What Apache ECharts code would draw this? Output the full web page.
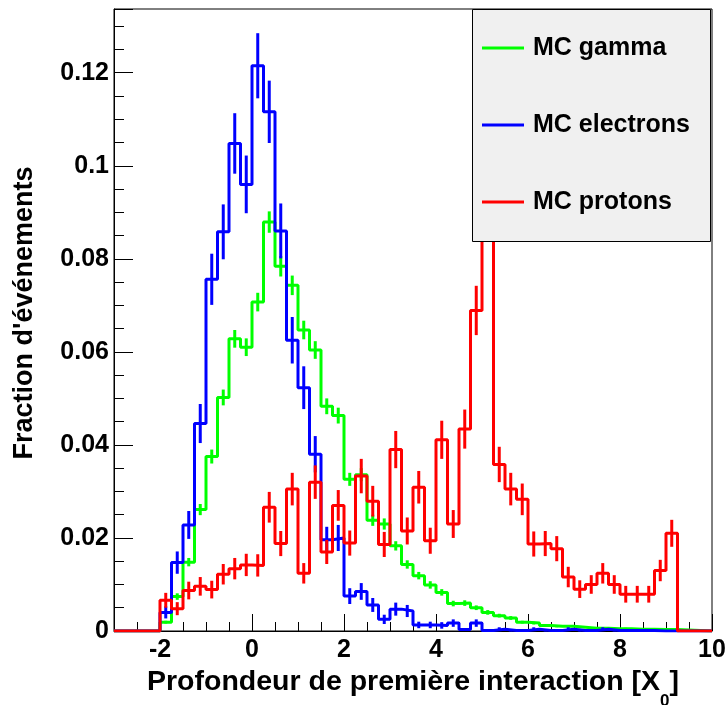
<!DOCTYPE html>
<html><head><meta charset="utf-8">
<script src="https://cdn.jsdelivr.net/npm/echarts/dist/echarts.min.js"></script>
<style>html,body{margin:0;padding:0;background:#fff}#c{width:728px;height:705px}</style>
</head><body><div id="c"></div>
<script>
// Histogram binning (bin left edge of first bin, bin width), axis range
const binStart = -2;
const binWidth = 0.25;
const xMin = -3, xMax = 10;
const yMin = 0, yMax = 0.1337;

const seriesNames = ['MC gamma', 'MC electrons', 'MC protons'];

const gamma = [0.0019,0.0074,0.0148,0.0261,0.0375,0.0502,0.0628,0.0610,0.0707,0.0879,
  0.0784,0.0743,0.0647,0.0604,0.0483,0.0463,0.0326,0.0336,0.0238,0.0230,
  0.0183,0.0143,0.0119,0.0099,0.0083,0.0059,0.0060,0.0050,0.0040,0.0033,
  0.0028,0.0019,0.0017,0.0012,0.0010,0.0010,0.0008,0.0006,0.0006,0.0005,
  0.0005,0.0004,0.0004,0.0003,0.0003];
const gammaErr = [0.0003,0.0007,0.0009,0.0012,0.0015,0.0017,0.0019,0.0019,0.0020,0.0023,
  0.0022,0.0021,0.0020,0.0019,0.0017,0.0017,0.0014,0.0014,0.0012,0.0012,
  0.0010,0.0009,0.0008,0.0008,0.0007,0.0006,0.0006,0.0005,0.0005,0.0004,
  0.0004,0.0003,0.0003,0.0003,0.0002,0.0002,0.0002,0.0002,0.0002,0.0002,
  0.0002,0.0002,0.0002,0.0001,0.0001];

const electrons = [0.0040,0.0147,0.0228,0.0446,0.0756,0.0858,0.1048,0.0960,0.1215,0.1116,
  0.0860,0.0625,0.0523,0.0380,0.0196,0.0200,0.0075,0.0085,0.0056,0.0025,
  0.0047,0.0043,0.0013,0.0013,0.0012,0.0017,0.0003,0.0017,0.0001,0.0004,
  0.0001,0.0001,0.0004,0.0001,0.0001,0.0004,0.0001,0.0001,0.0004,0.0001,
  0.0001,0.0001,0.0001,0,0];
const electronsErr = [0.0013,0.0024,0.0030,0.0042,0.0055,0.0059,0.0065,0.0062,0.0070,0.0067,
  0.0059,0.0050,0.0046,0.0039,0.0028,0.0028,0.0017,0.0018,0.0015,0.0010,
  0.0014,0.0013,0.0007,0.0007,0.0007,0.0008,0.0003,0.0008,0.0002,0.0004,
  0.0002,0.0002,0.0004,0.0002,0.0002,0.0004,0.0002,0.0002,0.0004,0.0002,
  0.0002,0.0002,0.0002,0,0];

const protons = [0.0066,0.0048,0.0087,0.0096,0.0089,0.0122,0.0134,0.0142,0.0141,0.0266,
  0.0188,0.0305,0.0124,0.0320,0.0170,0.0270,0.0189,0.0333,0.0279,0.0186,
  0.0390,0.0215,0.0309,0.0194,0.0411,0.0230,0.0434,0.0689,0.0980,0.0358,
  0.0305,0.0283,0.0187,0.0188,0.0177,0.0116,0.0090,0.0100,0.0124,0.0100,
  0.0079,0.0079,0.0079,0.0130,0.0210];
const protonsErr = [0.0016,0.0014,0.0019,0.0020,0.0019,0.0022,0.0023,0.0024,0.0024,0.0033,
  0.0027,0.0035,0.0022,0.0036,0.0026,0.0033,0.0027,0.0037,0.0033,0.0027,
  0.0040,0.0029,0.0035,0.0028,0.0041,0.0030,0.0042,0.0053,0.0063,0.0038,
  0.0035,0.0034,0.0027,0.0027,0.0027,0.0022,0.0019,0.0020,0.0022,0.0020,
  0.0018,0.0018,0.0018,0.0023,0.0029];

const colors = ['#00ff00', '#0000ff', '#ff0000'];
const FONT = "'Liberation Sans', Arial, Helvetica, sans-serif";

function histData(vals) {
  const pts = [[xMin, 0]];
  vals.forEach((v, i) => pts.push([binStart + i * binWidth, v]));
  pts.push([binStart + vals.length * binWidth, 0]);
  pts.push([xMax, 0]);
  return pts;
}
function errData(vals, errs) {
  const out = [];
  vals.forEach((v, i) => { if (v > 0) out.push([binStart + (i + 0.5) * binWidth, v, errs[i]]); });
  return out;
}
function histSeries(name, vals, color, z) {
  return {
    type: 'line', name: name, step: 'end', symbol: 'none', z: z,
    data: histData(vals), silent: true,
    lineStyle: { color: color, width: 3 }, itemStyle: { color: color }
  };
}
function errSeries(name, vals, errs, color, z) {
  return {
    type: 'custom', name: name + ' err', z: z, silent: true,
    data: errData(vals, errs),
    encode: { x: 0, y: 1 },
    renderItem: function (params, api) {
      const x = api.value(0), v = api.value(1), e = api.value(2);
      const p1 = api.coord([x, v - e]);
      const p2 = api.coord([x, v + e]);
      return { type: 'line', shape: { x1: p1[0], y1: p1[1], x2: p2[0], y2: p2[1] },
        style: { stroke: color, lineWidth: 3 } };
    }
  };
}

const legendTops = [35, 112, 189];
const legends = seriesNames.map((n, i) => ({
  data: [n], left: 482, top: legendTops[i], orient: 'vertical', z: 11, padding: 0,
  icon: 'rect', itemWidth: 42, itemHeight: 3, selectedMode: false,
  textStyle: { fontFamily: FONT, fontWeight: 'bold', fontSize: 25, color: '#000', padding: [0, 0, 0, 4], lineHeight: 26 }
}));

const chart = echarts.init(document.getElementById('c'), null, { renderer: 'canvas' });
chart.setOption({
  animation: false,
  backgroundColor: '#fff',
  grid: { left: 114, right: 16, top: 9, bottom: 74, show: true, borderColor: '#000', borderWidth: 1,
    backgroundColor: 'transparent', containLabel: false, outerBoundsMode: 'none' },
  legend: legends,
  graphic: [{
    type: 'rect', z: 10, silent: true,
    shape: { x: 472.5, y: 9.5, width: 238, height: 232 },
    style: { fill: '#f0f0f0', stroke: '#000', lineWidth: 1 }
  }],
  xAxis: {
    type: 'value', min: xMin, max: xMax, minInterval: 2, maxInterval: 2, splitNumber: 6,
    axisLine: { show: true, onZero: false, lineStyle: { color: '#000', width: 1 } },
    axisTick: { show: true, inside: true, length: 17, lineStyle: { color: '#000', width: 1 } },
    minorTick: { show: true, splitNumber: 4, length: 9, lineStyle: { color: '#000', width: 1 } },
    splitLine: { show: false },
    axisLabel: { showMinLabel: false, margin: 7, fontFamily: FONT, fontWeight: 'bold', fontSize: 25, color: '#000' },
    name: '{m|Profondeur de première interaction [X}{s|0}{m|]}',
    nameLocation: 'middle', nameGap: 35,
    nameTextStyle: {
      rich: {
        m: { fontFamily: FONT, fontWeight: 'bold', fontSize: 28.5, color: '#000', verticalAlign: 'top', lineHeight: 32 },
        s: { fontFamily: FONT, fontWeight: 'bold', fontSize: 17, color: '#000', verticalAlign: 'bottom', lineHeight: 42 }
      }
    }
  },
  yAxis: {
    type: 'value', min: yMin, max: yMax, interval: 0.02,
    axisLine: { show: true, onZero: false, lineStyle: { color: '#000', width: 1 } },
    axisTick: { show: true, inside: true, length: 19, lineStyle: { color: '#000', width: 1 } },
    minorTick: { show: true, splitNumber: 4, length: 10, lineStyle: { color: '#000', width: 1 } },
    splitLine: { show: false },
    axisLabel: { showMaxLabel: false, margin: 5, fontFamily: FONT, fontWeight: 'bold', fontSize: 25, color: '#000' },
    name: "Fraction d'événements", nameLocation: 'middle', nameGap: 76,
    nameTextStyle: { fontFamily: FONT, fontWeight: 'bold', fontSize: 27, color: '#000', padding: [0, 0, 0, 14] }
  },
  series: [
    histSeries(seriesNames[0], gamma, colors[0], 2),
    errSeries(seriesNames[0], gamma, gammaErr, colors[0], 2),
    histSeries(seriesNames[1], electrons, colors[1], 3),
    errSeries(seriesNames[1], electrons, electronsErr, colors[1], 3),
    histSeries(seriesNames[2], protons, colors[2], 4),
    errSeries(seriesNames[2], protons, protonsErr, colors[2], 4)
  ]
});
</script>
</body></html>
